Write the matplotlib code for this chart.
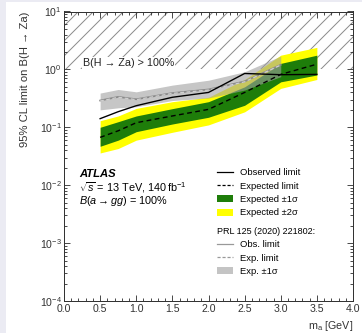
import matplotlib
matplotlib.use("Agg")
import matplotlib.pyplot as plt
from matplotlib.patches import Rectangle, Patch
from matplotlib.lines import Line2D
from matplotlib.ticker import MultipleLocator, LogLocator, NullFormatter

plt.rcParams['font.family'] = ['Liberation Sans', 'DejaVu Sans']
plt.rcParams['mathtext.fontset'] = 'custom'
plt.rcParams['mathtext.rm'] = 'Liberation Sans'
plt.rcParams['mathtext.it'] = 'Liberation Sans:italic'
plt.rcParams['mathtext.bf'] = 'Liberation Sans:bold'
plt.rcParams['hatch.linewidth'] = 0.8

# ---- data ----
mass = [0.5, 0.75, 1.0, 1.5, 2.0, 2.5, 3.0, 3.5]
observed = [0.141, 0.186, 0.236, 0.33, 0.40, 0.85, 0.81, 0.82]
expected = [0.067, 0.087, 0.12, 0.157, 0.204, 0.40, 0.82, 1.23]
exp_1s_lo = [0.047, 0.060, 0.084, 0.114, 0.149, 0.24, 0.61, 0.80]
exp_1s_hi = [0.100, 0.125, 0.157, 0.21, 0.277, 0.50, 1.27, 1.76]
exp_2s_lo = [0.036, 0.043, 0.060, 0.082, 0.110, 0.185, 0.47, 0.67]
exp_2s_hi = [0.130, 0.157, 0.212, 0.277, 0.33, 0.67, 1.76, 2.40]

prl_mass = [0.5, 0.75, 1.0, 1.5, 2.0, 2.5, 3.0]
prl_obs = [0.29, 0.335, 0.305, 0.39, 0.45, 0.62, 1.20]
prl_exp = [0.284, 0.33, 0.30, 0.385, 0.44, 0.61, 1.19]
prl_1s_lo = [0.20, 0.217, 0.227, 0.29, 0.32, 0.44, 0.75]
prl_1s_hi = [0.39, 0.45, 0.41, 0.535, 0.65, 0.91, 1.70]

excluded_x = [0.0, 4.0]
excluded_lo = [1.0, 1.0]
excluded_hi = [10.0, 10.0]

W, H = 362, 333
fig = plt.figure(figsize=(W / 90, H / 90), dpi=90)
fig.patch.set_facecolor('white')
# light frame strips
fig.patches.append(Rectangle((0, 0), 6 / W, 1, transform=fig.transFigure,
                             facecolor='#ebebf3', edgecolor='none', zorder=0))
fig.patches.append(Rectangle((0, 1 - 2 / H), 1, 2 / H, transform=fig.transFigure,
                             facecolor='#ebebf3', edgecolor='none', zorder=0))

ax = fig.add_axes([64 / W, (H - 301) / H, (353 - 64) / W, (301 - 11.5) / H])

GREEN = '#1e7d0a'
YELLOW = '#ffff00'

ax.fill_between(excluded_x, excluded_lo, excluded_hi, facecolor='none',
                edgecolor='#8c8c8c', hatch='//', linewidth=0, zorder=1)
ax.fill_between(mass, exp_2s_lo, exp_2s_hi, color=YELLOW, linewidth=0, zorder=2)
ax.fill_between(mass, exp_1s_lo, exp_1s_hi, color=GREEN, linewidth=0, zorder=3)
ax.fill_between(prl_mass, prl_1s_lo, prl_1s_hi, color='#a0a0a0', alpha=0.6,
                linewidth=0, zorder=4)
ax.plot(prl_mass, prl_obs, color='#8a8a8a', lw=1.4, zorder=5)
ax.plot(prl_mass, prl_exp, color='#d0d0d0', lw=1.0, ls=(0, (3, 2)), zorder=6)
ax.plot(mass, observed, color='black', lw=1.1, zorder=7)
ax.plot(mass, expected, color='black', lw=1.1, ls=(0, (3.5, 2.5)), zorder=7)

ax.set_yscale('log')
ax.set_xlim(0, 4)
ax.set_ylim(1e-4, 10)
ax.xaxis.set_major_locator(MultipleLocator(0.5))
ax.xaxis.set_minor_locator(MultipleLocator(0.1))
ax.yaxis.set_major_locator(LogLocator(base=10, numticks=10))
ax.yaxis.set_minor_locator(LogLocator(base=10, subs=range(2, 10), numticks=20))
ax.yaxis.set_minor_formatter(NullFormatter())
ax.tick_params(which='both', direction='in', top=True, right=True,
               labelsize=8.4, width=0.7, colors='#333333', labelcolor='#333333')
ax.tick_params(which='major', length=5)
ax.tick_params(which='minor', length=2.5)
ax.tick_params(axis='x', pad=2.5)
ax.tick_params(axis='y', pad=2)
for s in ax.spines.values():
    s.set_linewidth(0.8)
    s.set_color('#333333')

ax.set_ylabel('95% CL limit on B(H → Za)', fontsize=9, color='#333333')
ax.yaxis.set_label_coords(-0.118, 1.0)
ax.yaxis.label.set_horizontalalignment('right')
ax.set_xlabel('m$_\\mathregular{a}$ [GeV]', fontsize=8.6, color='#333333')
ax.xaxis.set_label_coords(1.0, -0.062)
ax.xaxis.label.set_horizontalalignment('right')

ax.text(0.066, 0.822, 'B(H → Za) > 100%', transform=ax.transAxes, fontsize=8.6,
        va='center', ha='left', color='#222222', zorder=8,
        bbox=dict(facecolor='white', edgecolor='none', pad=0.6))

ax.text(0.052, 0.439, 'ATLAS', transform=ax.transAxes, fontsize=9,
        fontweight='bold', fontstyle='italic', va='center', ha='left')
ax.text(0.052, 0.393, r'$\sqrt{s}$ = 13 TeV, 140$\,$fb$^{-1}$', transform=ax.transAxes,
        fontsize=8.7, va='center', ha='left')
ax.text(0.052, 0.345, r'$B(a\rightarrow gg)$ = 100%', transform=ax.transAxes,
        fontsize=8.7, va='center', ha='left')

h1 = [Line2D([], [], color='black', lw=1.0),
      Line2D([], [], color='black', lw=1.0, ls=(0, (2.5, 1.5))),
      Patch(facecolor=GREEN, edgecolor='none'),
      Patch(facecolor=YELLOW, edgecolor='none')]
l1 = ['Observed limit', 'Expected limit', 'Expected ±1σ', 'Expected ±2σ']
leg1 = ax.legend(h1, l1, loc='upper left', bbox_to_anchor=(0.528, 0.458),
                 frameon=False, fontsize=7.5, handlelength=1.75, handleheight=0.75,
                 handletextpad=0.8, labelspacing=0.46, borderpad=0, borderaxespad=0)
ax.add_artist(leg1)

h2 = [Line2D([], [], color='#999999', lw=1.0),
      Line2D([], [], color='#999999', lw=1.0, ls=(0, (2.5, 1.5))),
      Patch(facecolor='#c4c4c4', edgecolor='none')]
l2 = ['Obs. limit', 'Exp. limit', 'Exp. ±1σ']
leg2 = ax.legend(h2, l2, loc='upper left', bbox_to_anchor=(0.528, 0.256),
                 frameon=False, fontsize=7.5, title='PRL 125 (2020) 221802:',
                 title_fontsize=7.2, alignment='left', handlelength=1.75,
                 handleheight=0.75, handletextpad=0.8, labelspacing=0.46,
                 borderpad=0, borderaxespad=0)

fig.savefig('out.png', dpi=90)
